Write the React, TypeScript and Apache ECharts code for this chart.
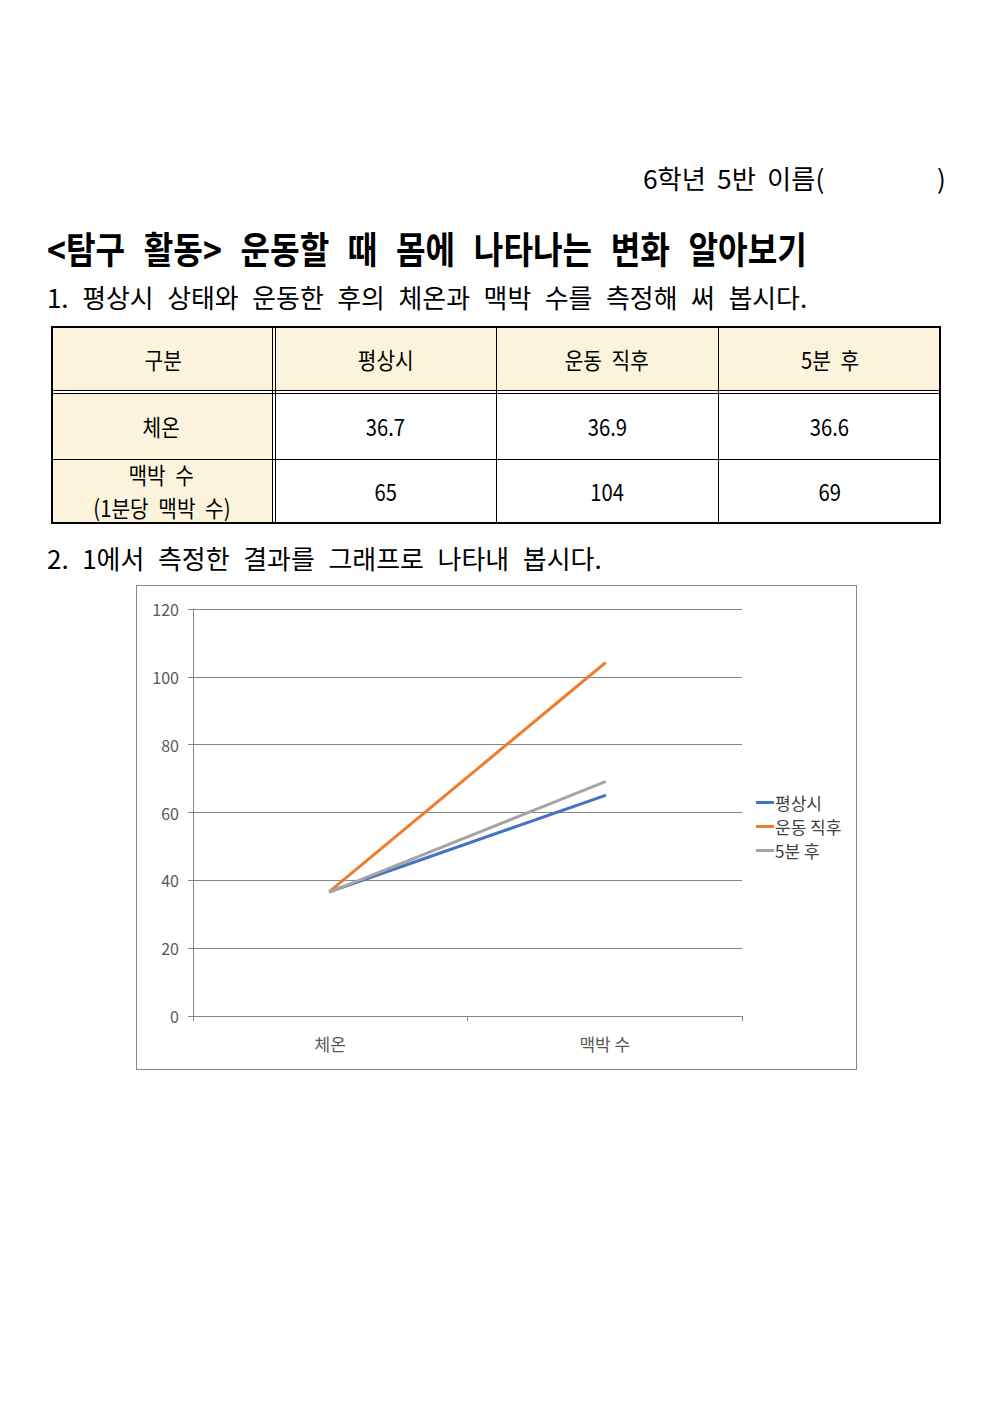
import React, { useEffect, useLayoutEffect, useRef, useState } from "react";
import * as echarts from "echarts";

const FONT = "'Noto Sans CJK KR', 'Noto Sans', sans-serif";

// ---- data ----
const categories = ["체온", "맥박 수"];
const seriesNames = ["평상시", "운동 직후", "5분 후"];
const normalValues = [36.7, 65];
const afterExerciseValues = [36.9, 104];
const fiveMinLaterValues = [36.6, 69];
const seriesColors = ["#4472C4", "#ED7D31", "#A5A5A5"];
const yMin = 0;
const yMax = 120;
const yInterval = 20;

const tableHeader = ["구분", "평상시", "운동 직후", "5분 후"];
const rowLabels = [["체온"], ["맥박 수", "(1분당 맥박 수)"]];
const temperatureRow = ["36.7", "36.9", "36.6"];
const pulseRow = ["65", "104", "69"];

const headerText = "6학년 5반 이름(";
const titleText = "<탐구 활동> 운동할 때 몸에 나타나는 변화 알아보기";
const step1Text = "1. 평상시 상태와 운동한 후의 체온과 맥박 수를 측정해 써 봅시다.";
const step2Text = "2. 1에서 측정한 결과를 그래프로 나타내 봅시다.";

// ---- layout helpers ----
function FitText(props: {
  text: string;
  left: number;
  centerY: number;
  width: number;
  fontSize: number;
  weight?: number;
  wordSpacing?: string;
}) {
  const { text, left, centerY, width, fontSize, weight = 400, wordSpacing = "0.3em" } = props;
  const ref = useRef<HTMLSpanElement>(null);
  const [scale, setScale] = useState(1);
  useLayoutEffect(() => {
    if (ref.current) {
      const w = ref.current.offsetWidth;
      if (w > 0) setScale(width / w);
    }
  }, [text, width, fontSize]);
  return (
    <span
      ref={ref}
      style={{
        position: "absolute",
        left,
        top: centerY - fontSize / 2,
        fontSize,
        lineHeight: `${fontSize}px`,
        fontWeight: weight,
        fontFamily: FONT,
        whiteSpace: "pre",
        wordSpacing,
        color: "#000",
        transform: `scaleX(${scale})`,
        transformOrigin: "left top",
      }}
    >
      {text}
    </span>
  );
}

const colX = [51, 275, 496, 718, 941];
const rowY = [326, 392, 459, 524];
const CREAM = "#FBF3DB";

function Cell(props: { x0: number; x1: number; y0: number; y1: number; lines: string[] }) {
  const { x0, x1, y0, y1, lines } = props;
  return (
    <div
      style={{
        position: "absolute",
        left: x0,
        top: y0,
        width: x1 - x0,
        height: y1 - y0,
        display: "flex",
        flexDirection: "column",
        alignItems: "center",
        justifyContent: "center",
        fontFamily: FONT,
        fontSize: 23,
        lineHeight: "33px",
        color: "#000",
      }}
    >
      {lines.map((l, i) => (
        <span key={i} style={{ display: "inline-block", transform: "scaleX(0.88)", whiteSpace: "pre", wordSpacing: "0.25em" }}>
          {l}
        </span>
      ))}
    </div>
  );
}

function Line(props: { left: number; top: number; width: number; height: number }) {
  return <div style={{ position: "absolute", background: "#000", ...props }} />;
}

function DataTable() {
  const bodyRows = [temperatureRow, pulseRow];
  return (
    <>
      {/* backgrounds */}
      <div style={{ position: "absolute", left: 51, top: 326, width: 890, height: 64, background: CREAM }} />
      <div style={{ position: "absolute", left: 51, top: 394, width: 221, height: 130, background: CREAM }} />
      {/* header */}
      {tableHeader.map((h, i) => (
        <Cell key={"h" + i} x0={colX[i]} x1={colX[i + 1]} y0={rowY[0]} y1={392} lines={[h]} />
      ))}
      {bodyRows.map((row, r) => (
        <React.Fragment key={"r" + r}>
          <Cell x0={colX[0]} x1={272} y0={rowY[r + 1] + (r === 0 ? 2 : 0)} y1={rowY[r + 2] - (r === 1 ? 2 : 0)} lines={rowLabels[r]} />
          {row.map((v, c) => (
            <Cell key={c} x0={colX[c + 1]} x1={colX[c + 2]} y0={rowY[r + 1] + (r === 0 ? 2 : 0)} y1={rowY[r + 2]} lines={[v]} />
          ))}
        </React.Fragment>
      ))}
      {/* inner lines */}
      <Line left={51} top={390} width={890} height={1} />
      <Line left={51} top={393} width={890} height={1} />
      <Line left={272} top={326} width={1} height={198} />
      <Line left={275} top={326} width={1} height={198} />
      <Line left={496} top={326} width={1} height={198} />
      <Line left={718} top={326} width={1} height={198} />
      <Line left={51} top={459} width={890} height={1} />
      {/* outer border */}
      <div
        style={{
          position: "absolute",
          left: 51,
          top: 326,
          width: 890,
          height: 198,
          border: "2px solid #000",
          boxSizing: "border-box",
        }}
      />
    </>
  );
}

function Chart() {
  const ref = useRef<HTMLDivElement>(null);
  useEffect(() => {
    if (!ref.current) return;
    const chart = echarts.init(ref.current, undefined, { renderer: "svg" });
    const allValues = [normalValues, afterExerciseValues, fiveMinLaterValues];
    chart.setOption({
      animation: false,
      textStyle: { fontFamily: FONT },
      grid: { left: 56, top: 23, width: 549, height: 407 },
      legend: {
        orient: "vertical",
        left: 619,
        top: 208,
        padding: 0,
        icon: "rect",
        itemWidth: 18,
        itemHeight: 3,
        itemGap: 7,
        textStyle: { color: "#404040", fontSize: 17, lineHeight: 17, fontFamily: FONT, padding: [0, 0, 0, -4] },
        data: seriesNames,
      },
      xAxis: {
        type: "category",
        data: categories,
        boundaryGap: true,
        axisLine: { lineStyle: { color: "#868686", width: 1 } },
        axisTick: { show: true, length: 5, lineStyle: { color: "#868686" } },
        axisLabel: { color: "#595959", fontSize: 17, margin: 19, fontFamily: FONT },
      },
      yAxis: {
        type: "value",
        min: yMin,
        max: yMax,
        interval: yInterval,
        axisLine: { show: true, lineStyle: { color: "#868686", width: 1 } },
        axisTick: { show: true, length: 5, lineStyle: { color: "#868686" } },
        axisLabel: { color: "#595959", fontSize: 16, margin: 14, fontFamily: FONT },
        splitLine: { show: true, lineStyle: { color: "#868686", width: 1 } },
      },
      series: seriesNames.map((name, i) => ({
        name,
        type: "line",
        data: allValues[i],
        symbol: "none",
        lineStyle: { color: seriesColors[i], width: 3, cap: "round" },
        itemStyle: { color: seriesColors[i] },
      })),
    });
    return () => chart.dispose();
  }, []);
  return (
    <div
      style={{
        position: "absolute",
        left: 136,
        top: 585,
        width: 721,
        height: 485,
        border: "1px solid #898989",
        boxSizing: "border-box",
        background: "#fff",
      }}
    >
      <div ref={ref} style={{ width: 719, height: 483 }} />
    </div>
  );
}

export default function App() {
  return (
    <div style={{ position: "absolute", left: 0, top: 0, width: 992, height: 1403, background: "#fff", overflow: "hidden" }}>
      <FitText text={headerText} left={643} centerY={178} width={181} fontSize={26} wordSpacing="0.2em" />
      <FitText text=")" left={937} centerY={178} width={9} fontSize={26} />
      <FitText text={titleText} left={47} centerY={248} width={760} fontSize={37} weight={700} wordSpacing="0.35em" />
      <FitText text={step1Text} left={47} centerY={297} width={760} fontSize={26} wordSpacing="0.3em" />
      <DataTable />
      <FitText text={step2Text} left={47} centerY={558} width={555} fontSize={26} wordSpacing="0.3em" />
      <Chart />
    </div>
  );
}
